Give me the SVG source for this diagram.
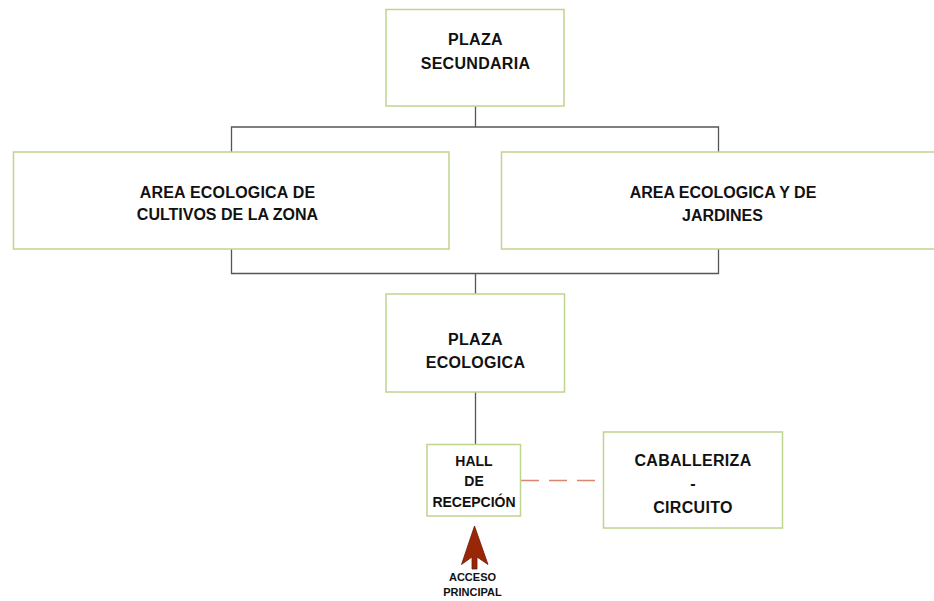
<svg xmlns="http://www.w3.org/2000/svg" width="934" height="601" viewBox="0 0 934 601">
<style>
.box{fill:#ffffff;stroke:#bfd48e;stroke-width:1.5}
.t{font-family:"Liberation Sans",Arial,sans-serif;font-weight:bold;font-size:16px;fill:#111111;text-anchor:middle}
.s{font-size:14px}
.xs{font-size:11px}
.ln{fill:none;stroke:#555555;stroke-width:1.3}
</style>
<rect width="934" height="601" fill="#ffffff"/>
<g id="connectors">
<path class="ln" d="M475.5 106V127M231.5 152V127H718.5V152"/>
<path class="ln" d="M231.5 249V273.5H718.5V249M475.5 273.5V294"/>
<path class="ln" d="M475.5 392V444.5"/>
<path d="M521 480.5H604" fill="none" stroke="#d9866e" stroke-width="1.3" stroke-dasharray="18,10"/>
</g>
<g id="plaza-secundaria">
<rect class="box" x="386" y="9.5" width="178" height="96.5"/>
<text class="t" x="475.5" y="44.5" letter-spacing="0.3">PLAZA</text>
<text class="t" x="475.5" y="69" letter-spacing="0.3">SECUNDARIA</text>
</g>
<g id="area-cultivos">
<rect class="box" x="13.5" y="152" width="435.5" height="97"/>
<text class="t" x="227.5" y="197.5" letter-spacing="0.2">AREA ECOLOGICA DE</text>
<text class="t" x="227.5" y="220">CULTIVOS DE LA ZONA</text>
</g>
<g id="area-jardines">
<rect class="box" x="501.5" y="152" width="442" height="97"/>
<text class="t" x="723" y="198">AREA ECOLOGICA Y DE</text>
<text class="t" x="722.5" y="220.5">JARDINES</text>
</g>
<g id="plaza-ecologica">
<rect class="box" x="386" y="294" width="178.5" height="98"/>
<text class="t" x="475.5" y="345" letter-spacing="0.3">PLAZA</text>
<text class="t" x="475.5" y="368" letter-spacing="0.3">ECOLOGICA</text>
</g>
<g id="hall-recepcion">
<rect class="box" x="427" y="444.5" width="93.5" height="71.5"/>
<text class="t s" x="474" y="465.5">HALL</text>
<text class="t s" x="474" y="486">DE</text>
<text class="t s" x="474" y="506.5">RECEPCIÓN</text>
</g>
<g id="caballeriza-circuito">
<rect class="box" x="603.5" y="432" width="179" height="96"/>
<text class="t" x="693" y="466" letter-spacing="0.3">CABALLERIZA</text>
<text class="t" x="693" y="489">-</text>
<text class="t" x="693" y="513" letter-spacing="0.3">CIRCUITO</text>
</g>
<g id="acceso-principal">
<path d="M474.5 526L488 564.5L477 557V569H472V557L461.5 564.5Z" fill="#9a2608" stroke="#6e1a05" stroke-width="0.8"/>
<text class="t xs" x="472.5" y="580.5">ACCESO</text>
<text class="t xs" x="472.5" y="596">PRINCIPAL</text>
</g>
</svg>
